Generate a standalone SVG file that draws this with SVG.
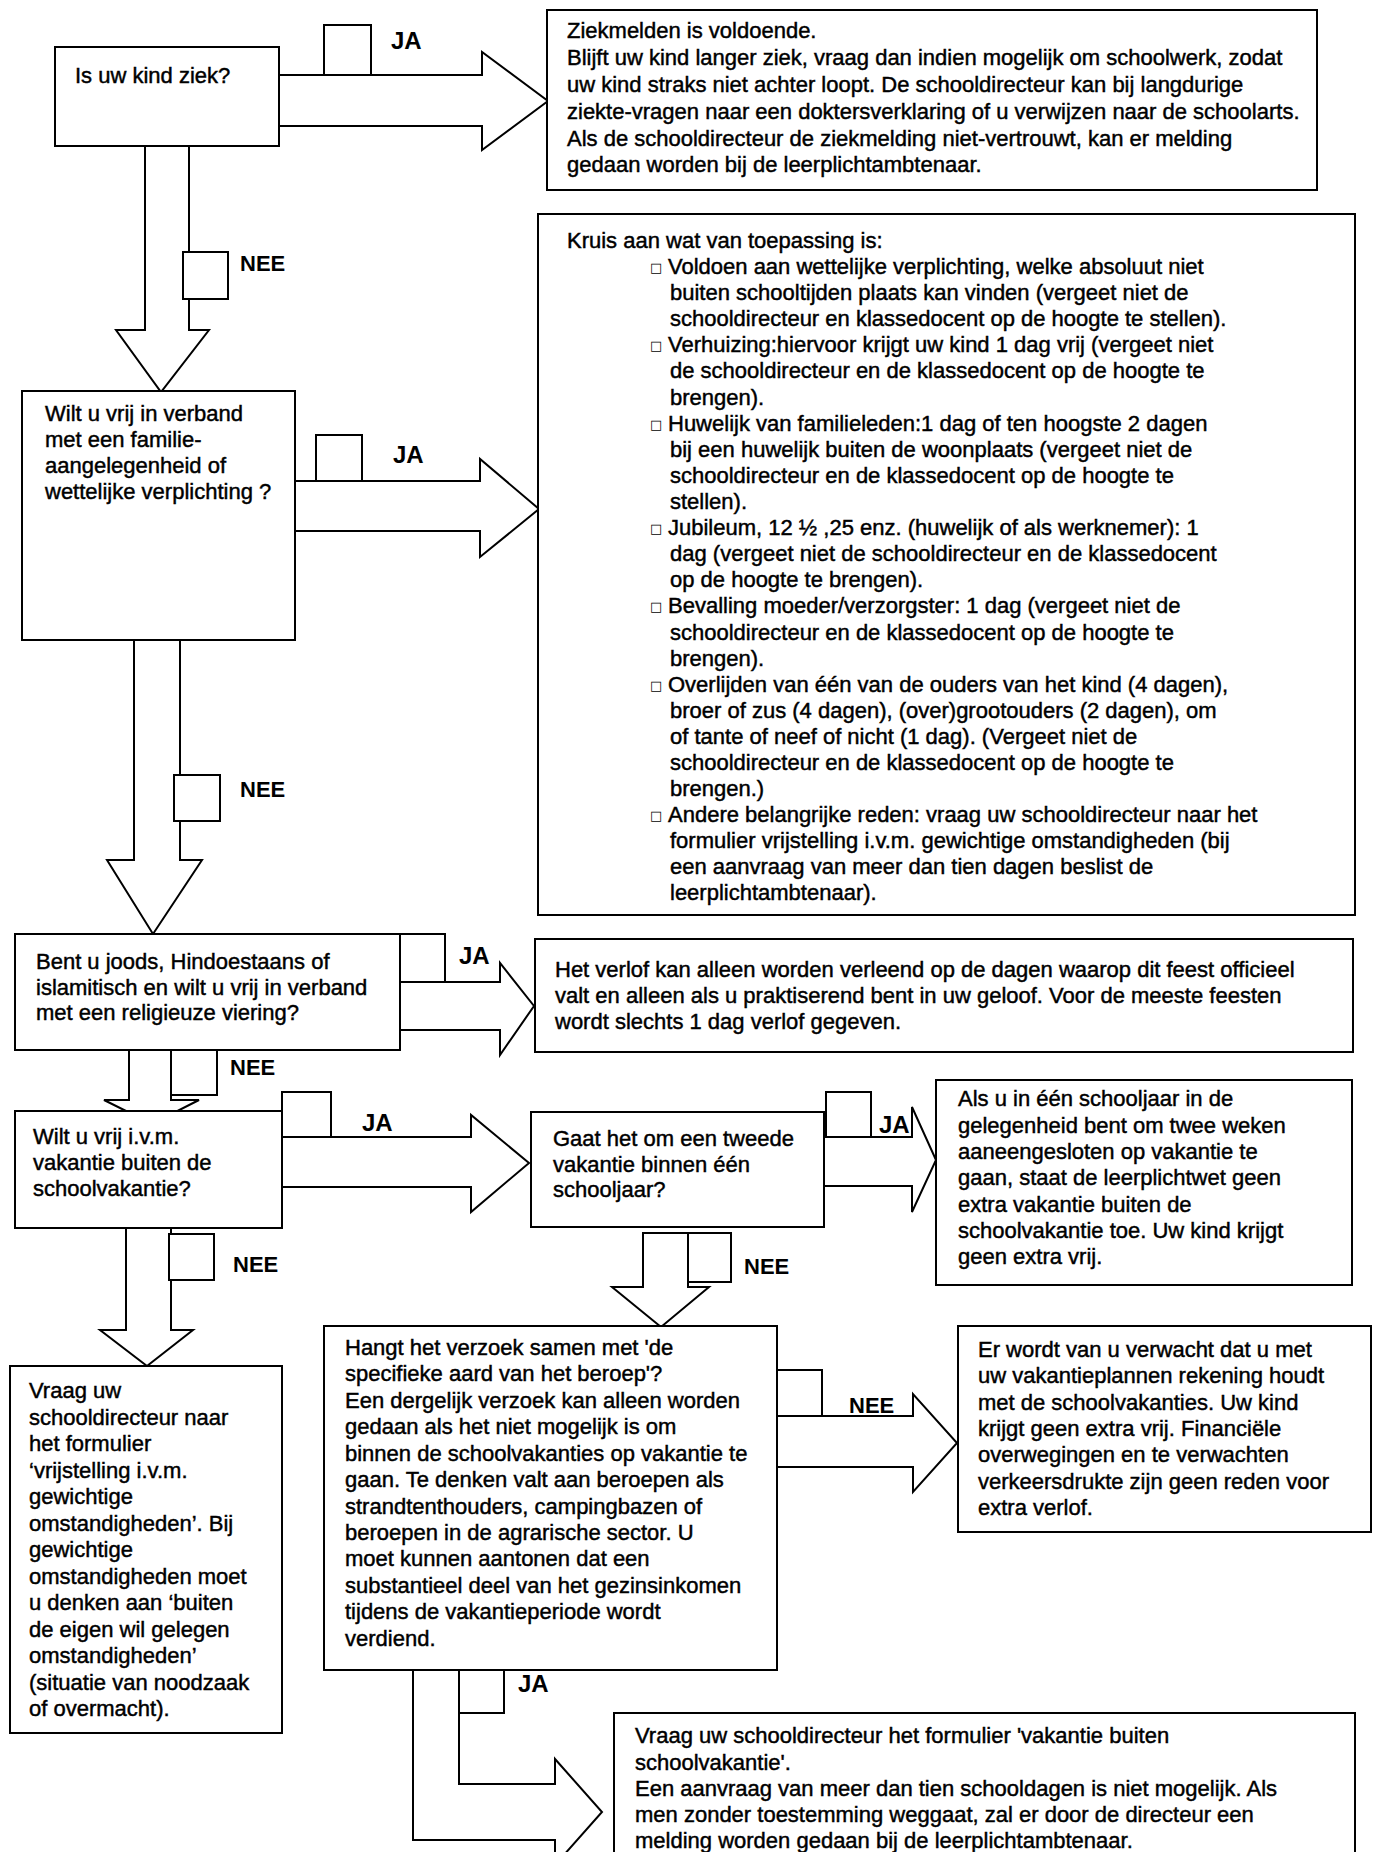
<svg xmlns="http://www.w3.org/2000/svg" width="1376" height="1852" viewBox="0 0 1376 1852">
<style>
.box{fill:#fff;stroke:#000;stroke-width:2}
.sq{fill:#fff;stroke:#000;stroke-width:2}
.arr{fill:none;stroke:#000;stroke-width:2;stroke-linejoin:miter}
.t{font-family:"Liberation Sans",Arial,sans-serif;font-size:22px;fill:#000;stroke:#000;stroke-width:0.45}
.lbl{font-family:"Liberation Sans",Arial,sans-serif;font-size:22px;font-weight:bold;fill:#000}
.ja{font-size:24px}
.bul{font-family:"DejaVu Sans",sans-serif;font-size:13px;fill:#000}
</style>
<rect width="1376" height="1852" fill="#fff"/>
<g id="connectors">
  <path class="arr" d="M279,75 H482 V52 L548,101 L482,150 V126 H279"/>
  <rect class="sq" x="324" y="25" width="47" height="50"/>
  <text class="lbl ja" x="391" y="49">JA</text>

  <path class="arr" d="M145,146 V330 H116 L161,392 L209,330 H189 V146"/>
  <rect class="sq" x="183" y="252" width="45" height="47"/>
  <text class="lbl" x="240" y="271">NEE</text>

  <path class="arr" d="M295,481 H480 V459 L539,509 L480,557 V531 H295"/>
  <rect class="sq" x="316" y="435" width="46" height="46"/>
  <text class="lbl ja" x="393" y="463">JA</text>

  <path class="arr" d="M134,640 V860 H107 L153,934 L202,860 H180 V640"/>
  <rect class="sq" x="174" y="775" width="46" height="46"/>
  <text class="lbl" x="240" y="797">NEE</text>

  <path class="arr" d="M445,982 H500 V963 L534,1006 L500,1055 V1030 H400"/>
  <rect class="sq" x="400" y="934" width="45" height="48"/>
  <text class="lbl ja" x="459" y="964">JA</text>

  <path class="arr" d="M129,1050 V1100 H104 L152,1124 L199,1100 H171 V1050"/>
  <rect class="sq" x="171" y="1050" width="46" height="45"/>
  <text class="lbl" x="230" y="1075">NEE</text>

  <path class="arr" d="M331,1137 H471 V1115 L529,1163 L471,1212 V1187 H282"/>
  <rect class="sq" x="282" y="1092" width="49" height="45"/>
  <text class="lbl ja" x="362" y="1131">JA</text>

  <path class="arr" d="M824,1137 H912 V1107 L936,1160 L912,1212 V1186 H824"/>
  <rect class="sq" x="826" y="1092" width="45" height="45"/>
  <text class="lbl ja" x="879" y="1133">JA</text>

  <path class="arr" d="M612,1287 H643 V1233 H688 V1287 H709 L661,1327 Z"/>
  <rect class="sq" x="688" y="1233" width="43" height="49"/>
  <text class="lbl" x="744" y="1274">NEE</text>

  <path class="arr" d="M126,1228 V1330 H100 L147,1366 L193,1330 H171 V1228"/>
  <rect class="sq" x="169" y="1234" width="45" height="46"/>
  <text class="lbl" x="233" y="1272">NEE</text>

  <path class="arr" d="M822,1416 H913 V1394 L957,1443 L913,1492 V1467 H777"/>
  <rect class="sq" x="777" y="1370" width="45" height="46"/>
  <text class="lbl" x="849" y="1413">NEE</text>

  <path class="arr" d="M459,1670 V1784 H555 V1759 L602,1812 L555,1865 V1840 H413 V1670"/>
  <rect class="sq" x="459" y="1670" width="45" height="43"/>
  <text class="lbl ja" x="518" y="1692">JA</text>
</g>

<g id="node-ziek">
  <rect class="box" x="55" y="47" width="224" height="99"/>
  <text class="t" x="75" y="83">Is uw kind ziek?</text>
</g>

<g id="node-ziekmelden">
  <rect class="box" x="547" y="10" width="770" height="180"/>
  <text class="t">
    <tspan x="567" y="38">Ziekmelden is voldoende.</tspan>
    <tspan x="567" y="65">Blijft uw kind langer ziek, vraag dan indien mogelijk om schoolwerk, zodat</tspan>
    <tspan x="567" y="92">uw kind straks niet achter loopt. De schooldirecteur kan bij langdurige</tspan>
    <tspan x="567" y="119">ziekte-vragen naar een doktersverklaring of u verwijzen naar de schoolarts.</tspan>
    <tspan x="567" y="146">Als de schooldirecteur de ziekmelding niet-vertrouwt, kan er melding</tspan>
    <tspan x="567" y="172">gedaan worden bij de leerplichtambtenaar.</tspan>
  </text>
</g>

<g id="node-familie">
  <rect class="box" x="22" y="391" width="273" height="249"/>
  <text class="t">
    <tspan x="45" y="421">Wilt u vrij in verband</tspan>
    <tspan x="45" y="447">met een familie-</tspan>
    <tspan x="45" y="473">aangelegenheid of</tspan>
    <tspan x="45" y="499">wettelijke verplichting ?</tspan>
  </text>
</g>

<g id="node-kruis">
  <rect class="box" x="538" y="214" width="817" height="701"/>
  <text class="t">
    <tspan x="567" y="248">Kruis aan wat van toepassing is:</tspan>
    <tspan x="668" y="274">Voldoen aan wettelijke verplichting, welke absoluut niet</tspan>
    <tspan x="670" y="300">buiten schooltijden plaats kan vinden (vergeet niet de</tspan>
    <tspan x="670" y="326">schooldirecteur en klassedocent op de hoogte te stellen).</tspan>
    <tspan x="668" y="352">Verhuizing:hiervoor krijgt uw kind 1 dag vrij (vergeet niet</tspan>
    <tspan x="670" y="378">de schooldirecteur en de klassedocent op de hoogte te</tspan>
    <tspan x="670" y="405">brengen).</tspan>
    <tspan x="668" y="431">Huwelijk van familieleden:1 dag of ten hoogste 2 dagen</tspan>
    <tspan x="670" y="457">bij een huwelijk buiten de woonplaats (vergeet niet de</tspan>
    <tspan x="670" y="483">schooldirecteur en de klassedocent op de hoogte te</tspan>
    <tspan x="670" y="509">stellen).</tspan>
    <tspan x="668" y="535">Jubileum, 12 ½ ,25 enz. (huwelijk of als werknemer): 1</tspan>
    <tspan x="670" y="561">dag (vergeet niet de schooldirecteur en de klassedocent</tspan>
    <tspan x="670" y="587">op de hoogte te brengen).</tspan>
    <tspan x="668" y="613">Bevalling moeder/verzorgster: 1 dag (vergeet niet de</tspan>
    <tspan x="670" y="640">schooldirecteur en de klassedocent op de hoogte te</tspan>
    <tspan x="670" y="666">brengen).</tspan>
    <tspan x="668" y="692">Overlijden van één van de ouders van het kind (4 dagen),</tspan>
    <tspan x="670" y="718">broer of zus (4 dagen), (over)grootouders (2 dagen), om</tspan>
    <tspan x="670" y="744">of tante of neef of nicht (1 dag). (Vergeet niet de</tspan>
    <tspan x="670" y="770">schooldirecteur en de klassedocent op de hoogte te</tspan>
    <tspan x="670" y="796">brengen.)</tspan>
    <tspan x="668" y="822">Andere belangrijke reden: vraag uw schooldirecteur naar het</tspan>
    <tspan x="670" y="848">formulier vrijstelling i.v.m. gewichtige omstandigheden (bij</tspan>
    <tspan x="670" y="874">een aanvraag van meer dan tien dagen beslist de</tspan>
    <tspan x="670" y="900">leerplichtambtenaar).</tspan>
  </text>
  <text class="bul">
    <tspan x="650" y="272">□</tspan>
    <tspan x="650" y="350">□</tspan>
    <tspan x="650" y="429">□</tspan>
    <tspan x="650" y="533">□</tspan>
    <tspan x="650" y="611">□</tspan>
    <tspan x="650" y="690">□</tspan>
    <tspan x="650" y="820">□</tspan>
  </text>
</g>

<g id="node-religie">
  <rect class="box" x="15" y="934" width="385" height="116"/>
  <text class="t">
    <tspan x="36" y="969">Bent u joods, Hindoestaans of</tspan>
    <tspan x="36" y="995">islamitisch en wilt u vrij in verband</tspan>
    <tspan x="36" y="1020">met een religieuze viering?</tspan>
  </text>
</g>

<g id="node-verlof">
  <rect class="box" x="535" y="939" width="818" height="113"/>
  <text class="t">
    <tspan x="555" y="977">Het verlof kan alleen worden verleend op de dagen waarop dit feest officieel</tspan>
    <tspan x="555" y="1003">valt en alleen als u praktiserend bent in uw geloof. Voor de meeste feesten</tspan>
    <tspan x="555" y="1029">wordt slechts 1 dag verlof gegeven.</tspan>
  </text>
</g>

<g id="node-vakantie">
  <rect class="box" x="15" y="1111" width="267" height="117"/>
  <text class="t">
    <tspan x="33" y="1144">Wilt u vrij i.v.m.</tspan>
    <tspan x="33" y="1170">vakantie buiten de</tspan>
    <tspan x="33" y="1196">schoolvakantie?</tspan>
  </text>
</g>

<g id="node-tweede">
  <rect class="box" x="531" y="1112" width="293" height="115"/>
  <text class="t">
    <tspan x="553" y="1146">Gaat het om een tweede</tspan>
    <tspan x="553" y="1172">vakantie binnen één</tspan>
    <tspan x="553" y="1197">schooljaar?</tspan>
  </text>
</g>

<g id="node-tweeweken">
  <rect class="box" x="936" y="1080" width="416" height="205"/>
  <text class="t">
    <tspan x="958" y="1106">Als u in één schooljaar in de</tspan>
    <tspan x="958" y="1133">gelegenheid bent om twee weken</tspan>
    <tspan x="958" y="1159">aaneengesloten op vakantie te</tspan>
    <tspan x="958" y="1185">gaan, staat de leerplichtwet geen</tspan>
    <tspan x="958" y="1212">extra vakantie buiten de</tspan>
    <tspan x="958" y="1238">schoolvakantie toe. Uw kind krijgt</tspan>
    <tspan x="958" y="1264">geen extra vrij.</tspan>
  </text>
</g>

<g id="node-gewichtig">
  <rect class="box" x="10" y="1366" width="272" height="367"/>
  <text class="t">
    <tspan x="29" y="1398">Vraag uw</tspan>
    <tspan x="29" y="1425">schooldirecteur naar</tspan>
    <tspan x="29" y="1451">het formulier</tspan>
    <tspan x="29" y="1478">‘vrijstelling i.v.m.</tspan>
    <tspan x="29" y="1504">gewichtige</tspan>
    <tspan x="29" y="1531">omstandigheden’. Bij</tspan>
    <tspan x="29" y="1557">gewichtige</tspan>
    <tspan x="29" y="1584">omstandigheden moet</tspan>
    <tspan x="29" y="1610">u denken aan ‘buiten</tspan>
    <tspan x="29" y="1637">de eigen wil gelegen</tspan>
    <tspan x="29" y="1663">omstandigheden’</tspan>
    <tspan x="29" y="1690">(situatie van noodzaak</tspan>
    <tspan x="29" y="1716">of overmacht).</tspan>
  </text>
</g>

<g id="node-beroep">
  <rect class="box" x="324" y="1326" width="453" height="344"/>
  <text class="t">
    <tspan x="345" y="1355">Hangt het verzoek samen met 'de</tspan>
    <tspan x="345" y="1381">specifieke aard van het beroep'?</tspan>
    <tspan x="345" y="1408">Een dergelijk verzoek kan alleen worden</tspan>
    <tspan x="345" y="1434">gedaan als het niet mogelijk is om</tspan>
    <tspan x="345" y="1461">binnen de schoolvakanties op vakantie te</tspan>
    <tspan x="345" y="1487">gaan. Te denken valt aan beroepen als</tspan>
    <tspan x="345" y="1514">strandtenthouders, campingbazen of</tspan>
    <tspan x="345" y="1540">beroepen in de agrarische sector. U</tspan>
    <tspan x="345" y="1566">moet kunnen aantonen dat een</tspan>
    <tspan x="345" y="1593">substantieel deel van het gezinsinkomen</tspan>
    <tspan x="345" y="1619">tijdens de vakantieperiode wordt</tspan>
    <tspan x="345" y="1646">verdiend.</tspan>
  </text>
</g>

<g id="node-verwacht">
  <rect class="box" x="958" y="1326" width="413" height="206"/>
  <text class="t">
    <tspan x="978" y="1357">Er wordt van u verwacht dat u met</tspan>
    <tspan x="978" y="1383">uw vakantieplannen rekening houdt</tspan>
    <tspan x="978" y="1410">met de schoolvakanties. Uw kind</tspan>
    <tspan x="978" y="1436">krijgt geen extra vrij. Financiële</tspan>
    <tspan x="978" y="1462">overwegingen en te verwachten</tspan>
    <tspan x="978" y="1489">verkeersdrukte zijn geen reden voor</tspan>
    <tspan x="978" y="1515">extra verlof.</tspan>
  </text>
</g>

<g id="node-formulier">
  <rect class="box" x="614" y="1713" width="741" height="160"/>
  <text class="t">
    <tspan x="635" y="1743">Vraag uw schooldirecteur het formulier 'vakantie buiten</tspan>
    <tspan x="635" y="1770">schoolvakantie'.</tspan>
    <tspan x="635" y="1796">Een aanvraag van meer dan tien schooldagen is niet mogelijk. Als</tspan>
    <tspan x="635" y="1822">men zonder toestemming weggaat, zal er door de directeur een</tspan>
    <tspan x="635" y="1848">melding worden gedaan bij de leerplichtambtenaar.</tspan>
  </text>
</g>
</svg>
